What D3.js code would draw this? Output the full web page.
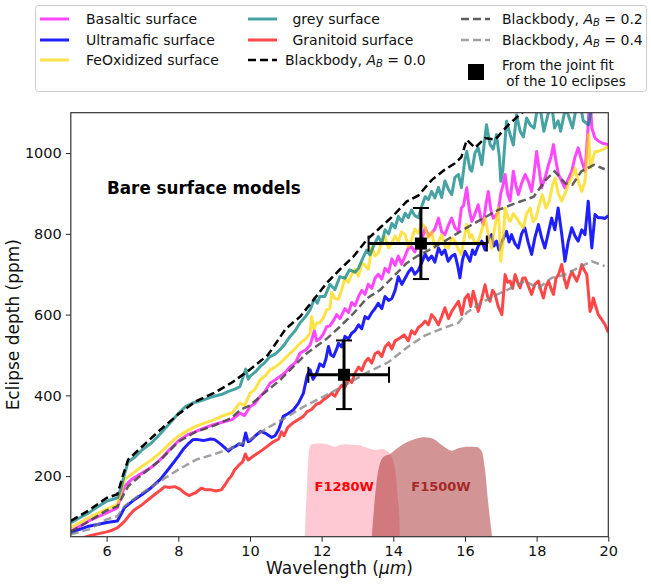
<!DOCTYPE html>
<html>
  <head>
    <meta charset="utf-8" />
    <title>Bare surface models</title>
    <script src="https://d3js.org/d3.v7.min.js"></script>
    <style>
      body { margin: 0; background: #fff; }
      text { font-family: "DejaVu Sans", sans-serif; white-space: pre; }
    </style>
  </head>
  <body>
    <script>
      // spectra: [wavelength (um), eclipse depth (ppm)]
      const basaltic = [[5.0,64],[5.25,76],[5.5,89],[5.75,99],[6.0,109],[6.15,115],[6.3,122],[6.4,150],[6.5,175],[6.7,192],[7.0,208],[7.25,222],[7.5,241],[7.75,265],[8.0,287],[8.25,302],[8.5,311],[8.75,320],[9.0,328],[9.25,334],[9.5,340],[9.72,356],[9.85,350],[10.0,372],[10.14,380],[10.28,397],[10.42,410],[10.56,430],[10.7,438],[10.84,447],[10.98,456],[11.12,471],[11.26,480],[11.4,505],[11.55,512],[11.68,525],[11.8,560],[11.86,535],[11.95,540],[12.05,552],[12.14,570],[12.23,572],[12.33,585],[12.42,600],[12.51,590],[12.65,615],[12.75,605],[12.84,630],[12.93,622],[13.03,645],[13.12,660],[13.21,650],[13.3,675],[13.4,665],[13.49,690],[13.58,700],[13.68,688],[13.77,715],[13.87,705],[13.96,738],[14.05,722],[14.14,745],[14.23,725],[14.33,745],[14.42,765],[14.51,768],[14.6,755],[14.7,775],[14.8,785],[14.89,815],[14.98,795],[15.07,802],[15.16,812],[15.26,839],[15.35,805],[15.44,798],[15.54,822],[15.63,839],[15.72,815],[15.82,806],[15.9,864],[15.96,870],[16.05,914],[16.12,860],[16.19,831],[16.28,850],[16.37,872],[16.44,840],[16.51,823],[16.58,870],[16.65,905],[16.72,860],[16.79,839],[16.86,845],[16.93,856],[17.0,900],[17.06,920],[17.12,947],[17.19,900],[17.26,881],[17.35,955],[17.42,920],[17.49,897],[17.58,925],[17.68,947],[17.77,930],[17.86,905],[17.93,950],[18.0,1004],[18.07,960],[18.14,914],[18.24,940],[18.33,971],[18.4,990],[18.47,1021],[18.54,980],[18.61,947],[18.7,930],[18.79,914],[18.88,935],[18.98,955],[19.07,990],[19.16,1013],[19.26,980],[19.35,955],[19.42,1040],[19.46,1110],[19.5,1130],[19.54,1062],[19.63,1037],[19.72,1030],[19.82,1025],[20.0,1021]];

      const ultramafic = [[5.0,60],[5.25,68],[5.5,76],[5.75,80],[6.0,85],[6.15,87],[6.3,89],[6.4,105],[6.5,122],[6.75,140],[7.0,155],[7.25,172],[7.5,192],[7.75,220],[8.0,249],[8.15,268],[8.3,282],[8.4,290],[8.5,291],[8.7,288],[8.9,292],[9.0,291],[9.1,285],[9.2,278],[9.3,270],[9.4,262],[9.5,270],[9.6,274],[9.7,280],[9.8,276],[9.88,307],[9.95,285],[10.0,287],[10.15,300],[10.3,311],[10.45,305],[10.6,296],[10.7,300],[10.8,315],[10.93,348],[11.07,355],[11.21,364],[11.35,380],[11.49,405],[11.6,450],[11.68,463],[11.76,440],[11.86,455],[11.95,478],[12.05,471],[12.12,490],[12.19,521],[12.26,500],[12.33,496],[12.42,515],[12.47,529],[12.56,520],[12.65,546],[12.75,540],[12.84,554],[12.93,560],[13.03,575],[13.12,565],[13.21,595],[13.3,590],[13.4,605],[13.49,615],[13.58,628],[13.68,615],[13.77,645],[13.87,635],[13.96,640],[14.05,660],[14.14,694],[14.24,675],[14.33,690],[14.42,705],[14.51,715],[14.6,700],[14.7,710],[14.8,730],[14.89,750],[14.98,735],[15.07,745],[15.16,730],[15.26,765],[15.35,749],[15.44,760],[15.53,732],[15.63,745],[15.72,749],[15.8,720],[15.86,691],[15.93,735],[16.0,757],[16.07,745],[16.14,732],[16.21,760],[16.28,749],[16.37,770],[16.47,782],[16.56,760],[16.6,774],[16.67,790],[16.74,798],[16.81,770],[16.88,782],[16.95,760],[17.0,774],[17.08,790],[17.16,806],[17.23,780],[17.3,798],[17.4,775],[17.49,765],[17.58,800],[17.67,815],[17.76,780],[17.86,749],[17.95,790],[18.05,823],[18.14,790],[18.23,765],[18.32,800],[18.42,839],[18.51,810],[18.6,864],[18.7,800],[18.79,732],[18.88,780],[18.98,815],[19.07,795],[19.16,782],[19.26,810],[19.35,798],[19.44,881],[19.49,820],[19.54,765],[19.63,848],[19.72,840],[19.82,840],[19.9,838],[20.0,845]];

      const feOxidized = [[5.0,72],[5.25,85],[5.5,97],[5.75,108],[6.0,118],[6.15,124],[6.3,130],[6.4,160],[6.5,192],[6.7,205],[7.0,225],[7.25,240],[7.5,258],[7.75,280],[8.0,299],[8.25,312],[8.5,324],[8.75,332],[9.0,340],[9.25,350],[9.5,357],[9.72,381],[9.85,375],[10.0,405],[10.14,415],[10.28,438],[10.42,448],[10.56,463],[10.7,470],[10.84,480],[10.98,492],[11.12,504],[11.26,516],[11.4,529],[11.55,540],[11.68,554],[11.72,595],[11.78,565],[11.86,579],[11.95,580],[12.05,592],[12.14,612],[12.23,615],[12.28,655],[12.37,640],[12.47,638],[12.56,662],[12.65,690],[12.75,680],[12.84,700],[12.93,712],[13.03,695],[13.12,728],[13.21,722],[13.3,712],[13.4,768],[13.49,745],[13.58,752],[13.68,780],[13.77,793],[13.87,765],[13.96,778],[14.05,795],[14.14,780],[14.23,805],[14.33,798],[14.42,768],[14.51,785],[14.6,812],[14.7,802],[14.8,825],[14.89,815],[14.98,790],[15.07,805],[15.16,765],[15.26,780],[15.35,798],[15.44,770],[15.54,765],[15.63,790],[15.72,782],[15.82,760],[15.9,749],[16.0,800],[16.05,823],[16.14,790],[16.19,798],[16.28,775],[16.37,782],[16.47,810],[16.56,839],[16.65,800],[16.74,765],[16.84,820],[16.93,864],[17.0,732],[17.06,780],[17.12,864],[17.2,840],[17.26,831],[17.35,850],[17.44,839],[17.54,825],[17.63,815],[17.72,850],[17.82,864],[17.9,830],[17.98,839],[18.07,870],[18.16,897],[18.26,864],[18.35,880],[18.44,920],[18.52,938],[18.6,900],[18.7,881],[18.79,900],[18.88,922],[18.98,940],[19.07,963],[19.16,930],[19.26,905],[19.35,930],[19.45,1046],[19.5,963],[19.58,990],[19.63,1004],[19.72,1004],[19.82,1008],[20.0,1016]];

      const greySurface = [[5.0,85],[5.25,97],[5.5,109],[5.75,124],[6.0,138],[6.15,142],[6.3,146],[6.4,170],[6.5,205],[6.6,235],[6.8,248],[7.0,266],[7.25,282],[7.5,305],[7.75,330],[8.0,355],[8.2,372],[8.4,381],[8.6,386],[8.8,392],[9.0,398],[9.2,402],[9.4,410],[9.6,416],[9.72,422],[9.88,465],[9.95,440],[10.0,447],[10.15,458],[10.28,471],[10.42,482],[10.56,496],[10.7,502],[10.84,513],[10.98,528],[11.12,546],[11.26,560],[11.4,580],[11.55,595],[11.68,612],[11.8,640],[11.88,628],[11.95,645],[12.09,645],[12.23,675],[12.37,662],[12.51,694],[12.65,690],[12.78,711],[12.93,705],[13.03,715],[13.15,740],[13.26,760],[13.35,748],[13.45,770],[13.58,793],[13.68,778],[13.77,810],[13.87,800],[13.96,826],[14.05,815],[14.14,843],[14.24,830],[14.33,851],[14.42,840],[14.51,859],[14.6,845],[14.7,840],[14.8,870],[14.89,892],[14.98,885],[15.07,905],[15.16,889],[15.26,915],[15.35,890],[15.44,931],[15.54,910],[15.63,897],[15.72,940],[15.82,947],[15.9,914],[16.0,985],[16.05,1004],[16.14,960],[16.19,955],[16.28,1000],[16.37,1013],[16.47,971],[16.56,1040],[16.6,1070],[16.7,1021],[16.79,1010],[16.88,1046],[16.96,990],[17.0,930],[17.06,960],[17.16,1079],[17.26,1046],[17.35,1020],[17.44,1095],[17.54,1054],[17.63,1040],[17.72,1087],[17.82,1070],[17.93,1062],[18.0,1099],[18.1,1110],[18.2,1054],[18.33,1100],[18.42,1120],[18.5,1062],[18.6,1080],[18.67,1054],[18.8,1110],[18.88,1095],[19.0,1062],[19.1,1110],[19.2,1130],[19.3,1080],[19.45,1070],[19.55,1120],[19.6,1150],[20.0,1160]];

      const granitoid = [[5.0,38],[5.25,44],[5.5,52],[5.75,57],[6.0,62],[6.15,66],[6.3,72],[6.4,80],[6.5,88],[6.65,105],[6.78,117],[7.0,130],[7.15,141],[7.35,155],[7.5,165],[7.62,174],[7.75,172],[7.9,174],[8.05,168],[8.18,158],[8.3,152],[8.36,154],[8.5,160],[8.64,170],[8.78,166],[8.92,166],[9.05,163],[9.2,166],[9.3,178],[9.39,191],[9.48,200],[9.57,215],[9.7,228],[9.8,236],[9.87,255],[9.95,240],[10.1,250],[10.22,257],[10.35,265],[10.5,275],[10.65,285],[10.8,292],[10.88,310],[10.95,300],[11.05,320],[11.2,332],[11.35,340],[11.49,348],[11.6,360],[11.72,365],[11.85,378],[11.95,381],[12.05,389],[12.15,395],[12.28,405],[12.37,398],[12.47,414],[12.56,425],[12.65,420],[12.75,440],[12.84,432],[12.93,455],[13.03,470],[13.12,462],[13.21,482],[13.3,492],[13.4,480],[13.49,503],[13.58,508],[13.68,496],[13.77,520],[13.87,530],[13.96,515],[14.05,535],[14.19,542],[14.3,550],[14.42,535],[14.51,560],[14.6,552],[14.7,568],[14.8,575],[14.89,584],[14.98,575],[15.07,600],[15.16,590],[15.26,575],[15.35,595],[15.44,617],[15.54,590],[15.63,608],[15.72,620],[15.82,633],[15.91,600],[16.0,640],[16.09,650],[16.16,620],[16.23,658],[16.3,635],[16.37,608],[16.47,640],[16.56,674],[16.63,645],[16.7,633],[16.77,660],[16.84,650],[16.93,620],[17.03,600],[17.12,699],[17.19,680],[17.26,683],[17.33,665],[17.4,699],[17.47,680],[17.54,666],[17.61,690],[17.68,691],[17.77,670],[17.86,650],[17.95,675],[18.05,683],[18.12,660],[18.19,641],[18.26,670],[18.33,683],[18.4,665],[18.47,650],[18.54,690],[18.61,699],[18.7,724],[18.77,690],[18.84,666],[18.91,690],[18.98,707],[19.05,695],[19.12,683],[19.19,700],[19.26,724],[19.33,710],[19.4,699],[19.45,650],[19.49,608],[19.54,620],[19.58,641],[19.65,620],[19.72,600],[19.8,590],[19.91,575],[20.0,556]];

      const blackbody00 = [[5.0,89],[5.5,115],[6.0,146],[6.3,155],[6.45,200],[6.6,241],[7.0,274],[7.5,315],[8.0,353],[8.5,386],[9.0,406],[9.5,432],[10.0,464],[10.5,500],[11.0,565],[11.4,595],[11.77,636],[12.14,678],[12.51,712],[12.89,744],[13.26,785],[13.63,815],[14.0,845],[14.37,880],[14.7,895],[15.07,933],[15.44,959],[15.72,975],[15.9,990],[16.05,1033],[16.28,1013],[16.56,1037],[16.84,1033],[17.21,1070],[17.58,1099],[18.0,1130],[18.5,1170],[19.0,1200],[20.0,1250]];

      const blackbody02 = [[5.0,62],[5.5,88],[6.0,115],[6.3,125],[6.6,175],[7.0,205],[7.5,240],[8.0,285],[8.5,310],[9.0,325],[9.5,345],[9.72,364],[10.0,375],[10.28,397],[10.84,438],[11.4,488],[11.58,504],[12.14,540],[12.51,570],[12.89,603],[13.26,640],[13.63,661],[14.0,694],[14.37,727],[14.65,744],[15.0,760],[15.4,780],[15.95,810],[16.42,834],[16.92,859],[17.42,876],[17.92,892],[18.25,933],[18.5,955],[18.8,925],[19.0,922],[19.25,955],[19.6,971],[19.9,960]];

      const blackbody04 = [[5.0,56],[5.5,68],[6.0,93],[6.3,101],[6.5,126],[7.0,159],[7.5,188],[8.0,216],[8.5,241],[9.0,254],[9.5,270],[10.0,291],[10.5,320],[11.0,345],[11.5,372],[12.05,397],[12.65,425],[13.3,458],[13.86,482],[14.4,520],[14.88,548],[15.35,565],[15.82,580],[16.05,605],[16.47,630],[16.9,650],[17.3,666],[17.67,683],[18.05,666],[18.42,691],[18.8,699],[19.16,716],[19.54,732],[19.9,720]];

      // MIRI filter throughputs, already scaled into ppm units on the plot
      const f1280w = [[11.52,0],[11.55,100],[11.58,150],[11.62,230],[11.65,265],[11.72,279],[11.9,281],[12.09,280],[12.25,276],[12.37,273],[12.5,277],[12.65,279],[12.85,278],[13.02,277],[13.2,272],[13.3,269],[13.49,265],[13.68,267],[13.82,263],[13.95,249],[14.05,216],[14.12,150],[14.17,90],[14.2,0]];
      const f1500w = [[13.36,0],[13.45,108],[13.54,191],[13.63,232],[13.75,249],[13.91,255],[14.05,265],[14.33,282],[14.61,292],[14.88,296],[15.16,290],[15.35,277],[15.5,268],[15.63,263],[15.81,269],[16.09,273],[16.33,272],[16.47,261],[16.56,216],[16.65,133],[16.83,0]];

      // joint fit of the 10 eclipses
      const obsWl = [12.625, 14.77];
      const obsWlLow = [11.63, 13.31];
      const obsWlHigh = [13.88, 16.61];
      const obsDepth = [451, 776];
      const obsErr = [85, 88];

      const xTicks = [6, 8, 10, 12, 14, 16, 18, 20];
      const yTicks = [200, 400, 600, 800, 1000];

      const width = 651, height = 585;
      const margin = { top: 112.7, right: 42.7, bottom: 48.3, left: 70.8 };
      const innerW = width - margin.left - margin.right;
      const innerH = height - margin.top - margin.bottom;

      const svg = d3.select("body").append("svg")
        .attr("width", width).attr("height", height);

      const x = d3.scaleLinear().domain([5, 20]).range([margin.left, margin.left + innerW]);
      const y = d3.scaleLinear().domain([50, 1100]).range([margin.top + innerH, margin.top]);

      svg.append("defs").append("clipPath").attr("id", "plotclip")
        .append("rect")
        .attr("x", margin.left).attr("y", margin.top)
        .attr("width", innerW).attr("height", innerH);

      const plot = svg.append("g").attr("clip-path", "url(#plotclip)");

      // filters
      const area = d3.area().x(d => x(d[0])).y0(y(0)).y1(d => y(d[1])).curve(d3.curveMonotoneX);
      plot.append("path").datum(f1280w).attr("d", area).attr("fill", "pink").attr("opacity", 0.85);
      plot.append("path").datum(f1500w).attr("d", area).attr("fill", "brown").attr("opacity", 0.5);

      plot.append("text").attr("x", x(12.63)).attr("y", y(175))
        .attr("text-anchor", "middle").attr("dominant-baseline", "central")
        .attr("font-size", 13).attr("font-weight", "bold").attr("fill", "red").text("F1280W");
      plot.append("text").attr("x", x(15.33)).attr("y", y(175))
        .attr("text-anchor", "middle").attr("dominant-baseline", "central")
        .attr("font-size", 13).attr("font-weight", "bold").attr("fill", "brown").text("F1500W");

      const line = d3.line().x(d => x(d[0])).y(d => y(d[1]));

      const surfaces = [
        { data: basaltic, color: "magenta", opacity: 0.72, label: "Basaltic surface" },
        { data: ultramafic, color: "blue", opacity: 0.88, label: "Ultramafic surface" },
        { data: feOxidized, color: "gold", opacity: 0.72, label: "FeOxidized surface" },
        { data: greySurface, color: "teal", opacity: 0.72, label: " grey surface" },
        { data: granitoid, color: "red", opacity: 0.72, label: " Granitoid surface" }
      ];
      const blackbodies = [
        { data: blackbody00, color: "black", opacity: 1, label: "0.0" },
        { data: blackbody02, color: "#444", opacity: 0.85, label: "0.2" },
        { data: blackbody04, color: "gray", opacity: 0.75, label: "0.4" }
      ];

      surfaces.forEach(s => {
        plot.append("path").datum(s.data).attr("d", line)
          .attr("fill", "none").attr("stroke", s.color)
          .attr("stroke-width", 3).attr("stroke-opacity", s.opacity)
          .attr("stroke-linejoin", "round");
      });
      blackbodies.forEach(b => {
        plot.append("path").datum(b.data).attr("d", line)
          .attr("fill", "none").attr("stroke", b.color)
          .attr("stroke-width", 2.5).attr("stroke-opacity", b.opacity)
          .attr("stroke-dasharray", "8,4");
      });

      // error bars
      const obs = plot.append("g");
      obsWl.forEach((w, i) => {
        const cx = x(w), cy = y(obsDepth[i]);
        const yT = y(obsDepth[i] + obsErr[i]), yB = y(obsDepth[i] - obsErr[i]);
        const xL = x(obsWlLow[i]), xR = x(obsWlHigh[i]);
        obs.append("line").attr("x1", xL).attr("x2", xR).attr("y1", cy).attr("y2", cy)
          .attr("stroke", "black").attr("stroke-width", 3);
        obs.append("line").attr("x1", cx).attr("x2", cx).attr("y1", yT).attr("y2", yB)
          .attr("stroke", "black").attr("stroke-width", 3);
        [yT, yB].forEach(v => obs.append("line").attr("x1", cx - 8).attr("x2", cx + 8)
          .attr("y1", v).attr("y2", v).attr("stroke", "black").attr("stroke-width", 2));
        [xL, xR].forEach(v => obs.append("line").attr("x1", v).attr("x2", v)
          .attr("y1", cy - 8).attr("y2", cy + 8).attr("stroke", "black").attr("stroke-width", 2));
        obs.append("rect").attr("x", cx - 6).attr("y", cy - 6)
          .attr("width", 12).attr("height", 12).attr("fill", "black");
      });

      // axes
      const xAxis = svg.append("g").attr("transform", `translate(0,${margin.top + innerH})`)
        .call(d3.axisBottom(x).tickValues(xTicks).tickSize(5).tickPadding(4).tickFormat(d3.format("d")));
      const yAxis = svg.append("g").attr("transform", `translate(${margin.left},0)`)
        .call(d3.axisLeft(y).tickValues(yTicks).tickSize(5).tickPadding(4).tickFormat(d3.format("d")));
      [xAxis, yAxis].forEach(a => {
        a.select(".domain").remove();
        a.selectAll("text").attr("font-size", 14.5).attr("fill", "#111")
          .attr("font-family", "DejaVu Sans");
        a.selectAll("line").attr("stroke", "#222");
      });
      svg.append("rect").attr("x", margin.left).attr("y", margin.top)
        .attr("width", innerW).attr("height", innerH)
        .attr("fill", "none").attr("stroke", "#333").attr("stroke-width", 1.2);

      const xl = svg.append("text").attr("x", margin.left + innerW / 2).attr("y", 574)
        .attr("text-anchor", "middle").attr("font-size", 17).attr("fill", "#111");
      xl.append("tspan").text("Wavelength (");
      xl.append("tspan").attr("font-style", "italic").text("μm");
      xl.append("tspan").text(")");

      svg.append("text").attr("transform", `translate(19,${margin.top + innerH / 2}) rotate(-90)`)
        .attr("text-anchor", "middle").attr("font-size", 17).attr("fill", "#111")
        .text("Eclipse depth (ppm)");

      svg.append("text").attr("x", 107).attr("y", 194)
        .attr("font-size", 16.8).attr("font-weight", "bold").text("Bare surface models");

      // legend
      const lg = svg.append("g");
      lg.append("rect").attr("x", 35.5).attr("y", 5.5).attr("width", 611).attr("height", 86)
        .attr("rx", 3).attr("fill", "white").attr("stroke", "#ccc");
      const rowY = [19, 40, 60];
      const colX = [40, 248, 461];
      const textX = [86, 288, 502];

      function legendLine(cx, cy, color, opacity, dashed) {
        lg.append("line").attr("x1", cx).attr("x2", cx + 29).attr("y1", cy).attr("y2", cy)
          .attr("stroke", color).attr("stroke-opacity", opacity)
          .attr("stroke-width", dashed ? 2.5 : 3)
          .attr("stroke-dasharray", dashed ? "8,4" : null);
      }
      function legendText(tx, ty, size) {
        return lg.append("text").attr("x", tx).attr("y", ty).attr("dominant-baseline", "central")
          .attr("font-size", size || 14).attr("fill", "#111");
      }
      function bbText(t, value) {
        t.append("tspan").text("Blackbody, ");
        t.append("tspan").attr("font-style", "italic").text("A");
        t.append("tspan").attr("font-style", "italic").attr("font-size", 10).attr("dy", 3).text("B");
        t.append("tspan").attr("dy", -3).text(" = " + value);
      }

      surfaces.forEach((s, i) => {
        const col = Math.floor(i / 3), row = i % 3;
        legendLine(colX[col], rowY[row], s.color, s.opacity, false);
        legendText(textX[col], rowY[row]).text(s.label);
      });
      legendLine(colX[1], rowY[2], "black", 1, true);
      bbText(legendText(textX[1] - 3, rowY[2]), blackbodies[0].label);
      legendLine(colX[2], rowY[0], blackbodies[1].color, blackbodies[1].opacity, true);
      bbText(legendText(textX[2], rowY[0]), blackbodies[1].label);
      legendLine(colX[2], rowY[1], blackbodies[2].color, blackbodies[2].opacity, true);
      bbText(legendText(textX[2], rowY[1]), blackbodies[2].label);
      lg.append("rect").attr("x", 468).attr("y", 64).attr("width", 16).attr("height", 16)
        .attr("fill", "black");
      legendText(textX[2], 64.5, 13.5).text("From the joint fit");
      legendText(textX[2], 80.5, 13.5).text(" of the 10 eclipses");
    </script>
  </body>
</html>
